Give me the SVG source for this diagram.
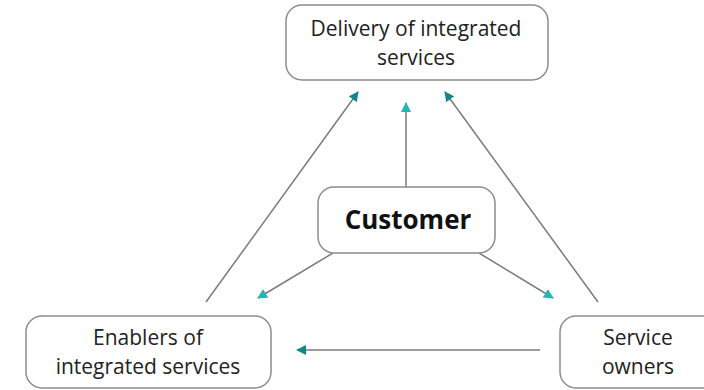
<svg xmlns="http://www.w3.org/2000/svg" width="704" height="390" viewBox="0 0 704 390">
<style>
.box{fill:#fff;stroke:#8c8c8c;stroke-width:1.5}
.t{font-family:"Open Sans","DejaVu Sans",sans-serif;font-size:21px;fill:#222;text-anchor:middle}
.b{font-weight:bold;font-size:26px;fill:#111}
.c{stroke:#7a7a7a;stroke-width:1.5;fill:none}
.dk{marker-end:url(#ad)}
.lt{marker-end:url(#al)}
</style>
<defs>
<marker id="ad" viewBox="0 0 10 10" refX="9" refY="5" markerWidth="10" markerHeight="10" markerUnits="userSpaceOnUse" orient="auto"><path d="M0,0 L10,5 L0,10 z" fill="#14868a"/></marker>
<marker id="al" viewBox="0 0 10 10" refX="9" refY="5" markerWidth="10" markerHeight="10" markerUnits="userSpaceOnUse" orient="auto"><path d="M0,0 L10,5 L0,10 z" fill="#1fb8b2"/></marker>
</defs>
<g id="connectors">
<line class="c dk" x1="206" y1="302" x2="358" y2="92"/>
<line class="c lt" x1="406" y1="187" x2="406" y2="103"/>
<line class="c dk" x1="598" y1="302" x2="445" y2="92"/>
<line class="c lt" x1="333" y1="253" x2="258" y2="298"/>
<line class="c lt" x1="479" y1="253" x2="553" y2="298"/>
<line class="c dk" x1="540" y1="350" x2="297" y2="350"/>
</g>
<g id="delivery">
<rect class="box" x="286" y="5" width="262" height="75" rx="16"/>
<text class="t" x="416" y="36">Delivery of integrated</text>
<text class="t" x="416" y="65">services</text>
</g>
<g id="customer">
<rect class="box" x="318" y="187" width="177" height="66" rx="16"/>
<text class="t b" x="408" y="229">Customer</text>
</g>
<g id="enablers">
<rect class="box" x="26" y="316" width="245" height="72" rx="16"/>
<text class="t" x="148" y="345">Enablers of</text>
<text class="t" x="148" y="374">integrated services</text>
</g>
<g id="owners">
<rect class="box" x="560" y="316" width="160" height="72" rx="16"/>
<text class="t" x="638" y="345">Service</text>
<text class="t" x="638" y="374">owners</text>
</g>
</svg>
